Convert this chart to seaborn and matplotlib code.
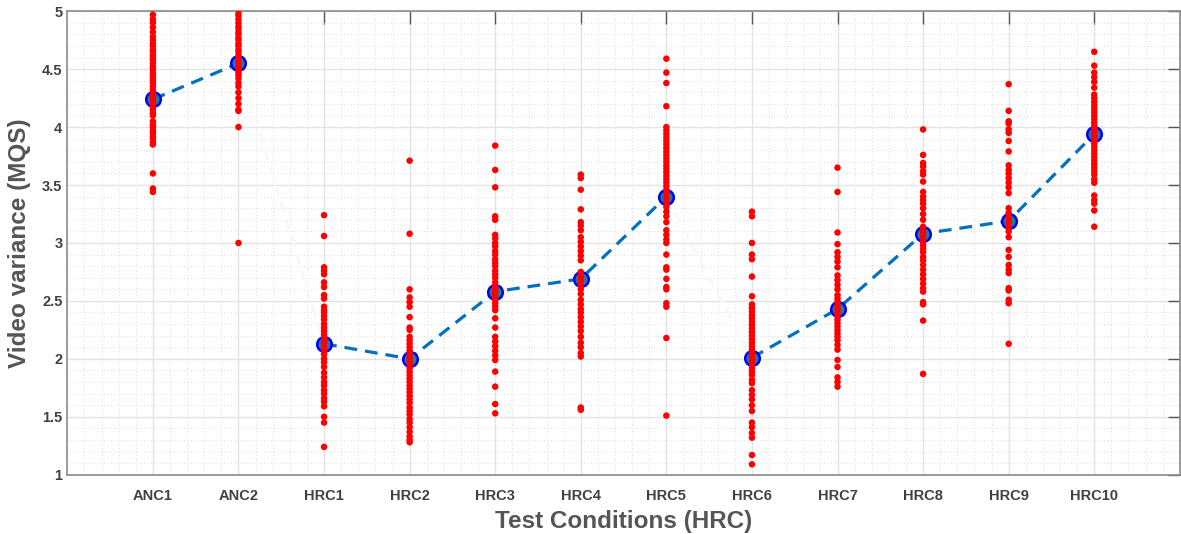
import matplotlib
matplotlib.use("Agg")
import matplotlib.pyplot as plt
import numpy as np
import pandas as pd
import seaborn as sns
from matplotlib.ticker import MultipleLocator

sns.set_style("whitegrid")
plt.rcParams['font.family'] = ['Liberation Sans', 'DejaVu Sans']

conditions = ['ANC1', 'ANC2', 'HRC1', 'HRC2', 'HRC3', 'HRC4',
              'HRC5', 'HRC6', 'HRC7', 'HRC8', 'HRC9', 'HRC10']

# individual scores per condition
anc1 = [4.97, 4.93, 4.9, 4.86, 4.82, 4.78, 4.75, 4.72, 4.7, 4.67, 4.65, 4.62, 4.6,
        4.58, 4.55, 4.52, 4.5, 4.47, 4.45, 4.42, 4.4, 4.38, 4.35, 4.32, 4.3, 4.28,
        4.25, 4.22, 4.2, 4.17, 4.15, 4.12, 4.1, 4.05, 4.02, 4.0, 3.97, 3.95, 3.92,
        3.9, 3.87, 3.85, 3.6, 3.47, 3.44]
anc2 = [4.98, 4.96, 4.93, 4.9, 4.87, 4.85, 4.82, 4.8, 4.77, 4.75, 4.72, 4.7, 4.67,
        4.65, 4.62, 4.6, 4.58, 4.55, 4.52, 4.5, 4.47, 4.45, 4.42, 4.38, 4.35, 4.3,
        4.25, 4.2, 4.15, 4.14, 4.0, 3.0]
hrc1 = [3.24, 3.06, 2.79, 2.76, 2.73, 2.66, 2.62, 2.55, 2.52, 2.45, 2.42, 2.4, 2.37,
        2.34, 2.3, 2.27, 2.24, 2.21, 2.18, 2.14, 2.1, 2.07, 2.04, 2.0, 1.97, 1.93,
        1.88, 1.84, 1.8, 1.77, 1.73, 1.7, 1.66, 1.63, 1.59, 1.5, 1.45, 1.24]
hrc2 = [3.71, 3.08, 2.6, 2.53, 2.49, 2.45, 2.36, 2.27, 2.25, 2.19, 2.16, 2.13, 2.1,
        2.07, 2.04, 2.01, 1.98, 1.95, 1.92, 1.89, 1.86, 1.83, 1.8, 1.77, 1.74, 1.71,
        1.68, 1.65, 1.62, 1.58, 1.55, 1.52, 1.48, 1.45, 1.41, 1.37, 1.33, 1.3, 1.28]
hrc3 = [3.84, 3.63, 3.48, 3.23, 3.2, 3.07, 3.04, 3.0, 2.97, 2.93, 2.9, 2.86, 2.83,
        2.8, 2.76, 2.73, 2.7, 2.66, 2.63, 2.6, 2.57, 2.54, 2.51, 2.48, 2.45, 2.42,
        2.35, 2.27, 2.19, 2.15, 2.11, 2.07, 2.03, 1.99, 1.89, 1.76, 1.61, 1.53]
hrc4 = [3.59, 3.56, 3.46, 3.29, 3.18, 3.15, 3.11, 3.05, 3.01, 2.97, 2.93, 2.89, 2.85,
        2.75, 2.71, 2.68, 2.64, 2.6, 2.56, 2.51, 2.47, 2.43, 2.4, 2.36, 2.32, 2.28,
        2.24, 2.19, 2.14, 2.1, 2.05, 2.02, 1.58, 1.56]
hrc5 = [4.59, 4.47, 4.38, 4.18, 4.0, 3.97, 3.94, 3.91, 3.88, 3.85, 3.82, 3.79, 3.76,
        3.73, 3.7, 3.67, 3.64, 3.61, 3.58, 3.55, 3.52, 3.49, 3.46, 3.43, 3.39, 3.35,
        3.31, 3.27, 3.23, 3.18, 3.11, 3.07, 3.03, 3.0, 2.9, 2.79, 2.77, 2.69, 2.62,
        2.6, 2.48, 2.45, 2.18, 1.51]
hrc6 = [3.27, 3.23, 3.0, 2.9, 2.86, 2.71, 2.54, 2.47, 2.44, 2.41, 2.38, 2.35, 2.32,
        2.29, 2.26, 2.23, 2.2, 2.17, 2.14, 2.11, 2.08, 2.05, 2.02, 1.99, 1.96, 1.92,
        1.89, 1.86, 1.82, 1.79, 1.73, 1.69, 1.65, 1.6, 1.55, 1.45, 1.41, 1.36, 1.32,
        1.17, 1.09]
hrc7 = [3.65, 3.44, 3.09, 2.99, 2.92, 2.88, 2.84, 2.79, 2.72, 2.68, 2.64, 2.6, 2.55,
        2.52, 2.49, 2.46, 2.43, 2.4, 2.37, 2.34, 2.31, 2.28, 2.25, 2.22, 2.19, 2.16,
        2.12, 2.08, 1.99, 1.93, 1.84, 1.8, 1.76]
hrc8 = [3.98, 3.76, 3.69, 3.66, 3.62, 3.59, 3.53, 3.44, 3.4, 3.37, 3.34, 3.3, 3.25,
        3.2, 3.14, 3.11, 3.08, 3.05, 3.01, 2.98, 2.95, 2.92, 2.88, 2.85, 2.81, 2.77,
        2.73, 2.69, 2.65, 2.61, 2.58, 2.49, 2.47, 2.33, 1.87]
hrc9 = [4.37, 4.14, 4.05, 4.03, 3.98, 3.95, 3.88, 3.79, 3.67, 3.63, 3.6, 3.56, 3.52,
        3.48, 3.43, 3.3, 3.26, 3.22, 3.18, 3.14, 3.1, 3.05, 2.94, 2.88, 2.81, 2.77,
        2.74, 2.61, 2.59, 2.51, 2.48, 2.13]
hrc10 = [4.65, 4.53, 4.47, 4.43, 4.39, 4.34, 4.28, 4.25, 4.22, 4.19, 4.16, 4.13,
         4.1, 4.07, 4.04, 4.01, 3.98, 3.95, 3.92, 3.89, 3.86, 3.83, 3.8, 3.77, 3.74,
         3.71, 3.68, 3.65, 3.62, 3.59, 3.55, 3.52, 3.41, 3.37, 3.34, 3.28, 3.14]

# mean score per condition and which dashed segment it belongs to
means = [4.24, 4.55, 2.13, 2.0, 2.58, 2.69, 3.4, 2.01, 2.43, 3.08, 3.19, 3.94]
segment = ['anc', 'anc', 'a', 'a', 'a', 'a', 'a', 'b', 'b', 'b', 'b', 'b']

scores = [anc1, anc2, hrc1, hrc2, hrc3, hrc4, hrc5, hrc6, hrc7, hrc8, hrc9, hrc10]
rows = []
for i, vals in enumerate(scores):
    for v in vals:
        rows.append({'pos': i + 1, 'score': v})
df = pd.DataFrame(rows)
df_mean = pd.DataFrame({'pos': np.arange(1, len(conditions) + 1),
                        'score': means, 'seg': segment})

fig = plt.figure(figsize=(11.81, 5.34), dpi=100)
ax = fig.add_axes([0.057, 0.111, 0.942, 0.868])

# barely visible bridges between the groups
bridge = df_mean.iloc[[1, 2, 6, 7]].copy()
bridge['seg'] = ['x', 'x', 'y', 'y']
sns.lineplot(data=bridge, x='pos', y='score', units='seg', estimator=None,
             ax=ax, color='#f5f7f9', linewidth=2.0, zorder=2)
sns.lineplot(data=df_mean, x='pos', y='score', units='seg', estimator=None,
             ax=ax, color='#0072BD', linewidth=2.3, zorder=3)
for ln in ax.lines:
    ln.set_dashes([4, 2.5])
ax.plot(df_mean['pos'], df_mean['score'], linestyle='none', marker='o',
        markersize=10.5, markerfacecolor='#1f7d94', markeredgecolor='#0000ff',
        markeredgewidth=1.8, zorder=4)
sns.scatterplot(data=df, x='pos', y='score', ax=ax, color='#ff0000', s=22,
                edgecolor='none', zorder=5)

ax.set_xlim(0, 13)
ax.set_ylim(1, 5)
ax.set_xticks(np.arange(1, len(conditions) + 1))
ax.set_xticklabels(conditions)
ax.set_yticks([1, 1.5, 2, 2.5, 3, 3.5, 4, 4.5, 5])
ax.set_yticklabels(['1', '1.5', '2', '2.5', '3', '3.5', '4', '4.5', '5'])
ax.xaxis.set_minor_locator(MultipleLocator(0.2))
ax.yaxis.set_minor_locator(MultipleLocator(0.1))

ax.grid(which='major', color='#e3e3e3', linewidth=1.0, linestyle='-')
ax.grid(which='minor', color='#d0d0d0', linewidth=0.6, linestyle=(0, (1, 3)))
ax.set_axisbelow(True)

ax.tick_params(axis='both', which='major', direction='in', length=9,
               width=1, color='#555555', labelsize=10.5, labelcolor='#404040',
               top=True, right=True)
ax.tick_params(axis='both', which='minor', length=0)
ax.tick_params(axis='x', pad=10)
for lab in ax.get_xticklabels() + ax.get_yticklabels():
    lab.set_fontweight('bold')

for s in ax.spines.values():
    s.set_color('#8a8a8a')
    s.set_linewidth(1.2)

ax.set_xlabel('Test Conditions (HRC)', fontsize=17.5, fontweight='bold',
              color='#555555', labelpad=5)
ax.set_ylabel('Video variance (MQS)', fontsize=17.5, fontweight='bold',
              color='#555555', labelpad=8)

fig.savefig('out.png', dpi=100)
